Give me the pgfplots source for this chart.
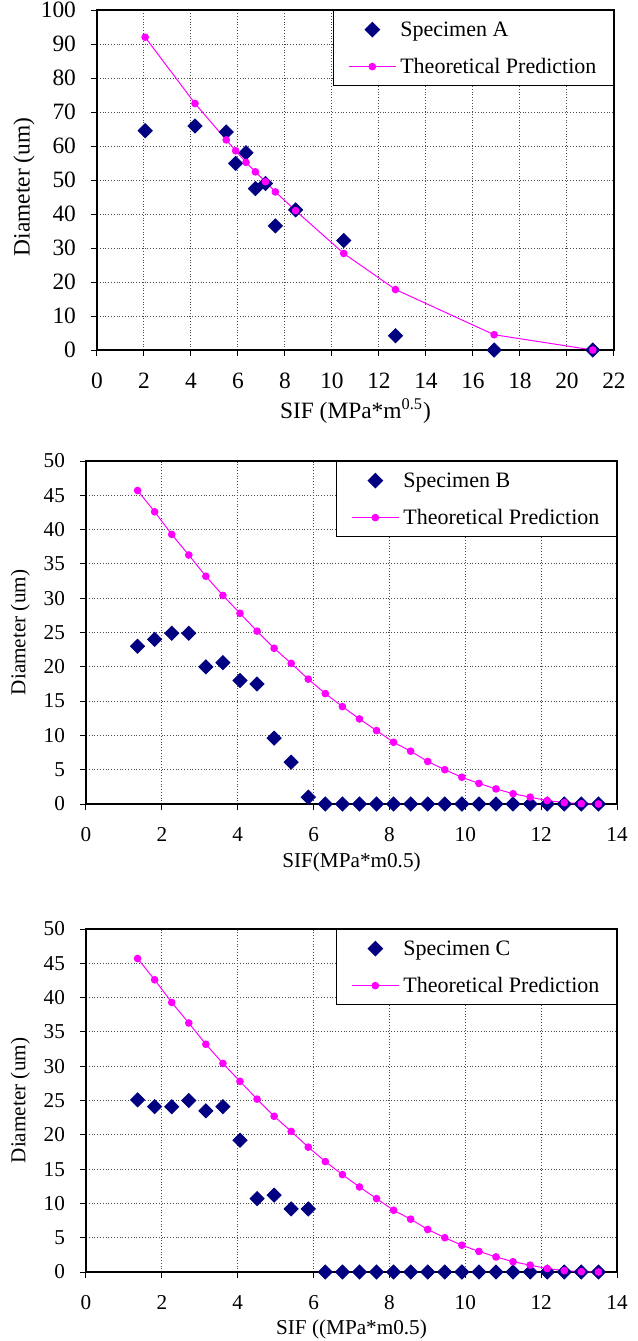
\documentclass[border=0pt]{standalone}
\usepackage{fontspec}
\setmainfont{Liberation Serif}
\usepackage{pgfplots}
\usepackage{pgfplotstable}
\pgfplotsset{compat=1.18}

\definecolor{spec}{RGB}{0,0,128}
\definecolor{theo}{RGB}{255,0,255}

% specimen B and C share the same SIF steps and prediction
\pgfplotstableread{
x     theo  specB specC
1.36  45.7  23.0  25.1
1.81  42.6  24.0  24.1
2.26  39.3  24.9  24.1
2.71  36.3  24.9  25.0
3.16  33.2  20.0  23.5
3.61  30.4  20.6  24.1
4.06  27.8  18.0  19.2
4.51  25.2  17.5  10.7
4.96  22.7  9.6   11.2
5.41  20.5  6.1   9.2
5.86  18.2  1.0   9.2
6.31  16.1  0     0
6.76  14.2  0     0
7.21  12.4  0     0
7.66  10.7  0     0
8.11  9.0   0     0
8.56  7.7   0     0
9.01  6.2   0     0
9.46  5.0   0     0
9.91  3.9   0     0
10.36 3.0   0     0
10.81 2.2   0     0
11.26 1.5   0     0
11.71 1.0   0     0
12.16 0.5   0     0
12.61 0.2   0     0
13.06 0.05  0     0
13.51 0     0     0
}\dataBC

\newcommand{\fontA}{\fontsize{11.7}{14}\selectfont}
\newcommand{\fontB}{\fontsize{10.6}{13}\selectfont}
\newcommand{\fontL}{\fontsize{11}{13}\selectfont}

\pgfplotsset{
  sifplot/.style={
    scale only axis,
    axis line style={black, line width=0.6pt},
    grid=major,
    major grid style={densely dotted, black!70, line width=0.5pt},
    tick align=outside, xtick pos=bottom, ytick pos=left,
    major tick length=3pt,
    tick style={black, line width=0.5pt},
    /pgf/number format/assume math mode=true,
    xticklabel shift=5pt,
    every y tick label/.append style={anchor=east},
    legend style={at={(1,1)}, anchor=north east, draw=black, line width=0.6pt,
      fill=white, font=\fontL, legend cell align=left,
      row sep=6.5pt, column sep=1pt, inner xsep=7.5pt, inner ysep=3.5pt,
      nodes={inner sep=1pt, text height=0.85em, text depth=0.15em}},
    legend image code/.code={\draw[mark repeat=2,mark phase=2,##1]
      plot coordinates {(0pt,0pt)(11.75pt,0pt)(23.5pt,0pt)};},
  },
  specmark/.style={only marks, color=spec, mark=square*,
    mark size=2.5pt, mark options={rotate=45}},
  theoline/.style={color=theo, line width=0.5pt, mark=*, mark size=1.65pt},
}

\begin{document}
\begin{tikzpicture}
\useasboundingbox (0,0) rectangle (319pt,-670.5pt);

% Specimen A
\begin{axis}[sifplot, at={(48.5pt,-5pt)}, anchor=north west,
  width=258.5pt, height=170pt,
  tick label style={font=\fontA}, label style={font=\fontA},
  yticklabel style={xshift=-4pt},
  xlabel style={at={(axis description cs:0.5,-0.2)}, anchor=base},
  ylabel style={at={(axis description cs:-0.141,0.48)}, anchor=center},
  xmin=0, xmax=22, ymin=0, ymax=100,
  xtick={0,2,...,22}, ytick={0,10,...,100},
  xlabel={SIF (MPa*m\textsuperscript{0.5})}, ylabel={Diameter (um)}]
\addplot[specmark] coordinates {
  (2.05,64.5)(4.17,65.9)(5.5,64.1)(5.9,54.9)(6.34,58.0)(6.74,47.5)
  (7.17,49.0)(7.59,36.5)(8.45,41.2)(10.5,32.2)(12.7,4.2)(16.9,0)(21.1,0)};
\addlegendentry{Specimen A}
\addplot[theoline] coordinates {
  (2.05,92.0)(4.17,72.5)(5.5,61.8)(5.9,58.6)(6.34,55.2)(6.74,52.4)
  (7.17,49.5)(7.59,46.5)(8.45,41.0)(10.5,28.4)(12.7,17.8)(16.9,4.5)(21.1,0)};
\addlegendentry{Theoretical Prediction}
\end{axis}

% Specimen B
\begin{axis}[sifplot, at={(43pt,-230.5pt)}, anchor=north west,
  width=265.5pt, height=171.5pt,
  tick label style={font=\fontB}, label style={font=\fontB},
  yticklabel style={xshift=-4pt},
  xlabel style={at={(axis description cs:0.5,-0.184)}, anchor=base},
  ylabel style={at={(axis description cs:-0.124,0.5)}, anchor=center},
  xmin=0, xmax=14, ymin=0, ymax=50,
  xtick={0,2,...,14}, ytick={0,5,...,50},
  xlabel={SIF(MPa*m0.5)}, ylabel={Diameter (um)}]
\addplot[specmark] table[x=x, y=specB] {\dataBC};
\addlegendentry{Specimen B}
\addplot[theoline] table[x=x, y=theo] {\dataBC};
\addlegendentry{Theoretical Prediction}
\end{axis}

% Specimen C
\begin{axis}[sifplot, at={(43pt,-464.5pt)}, anchor=north west,
  width=265.5pt, height=171.5pt,
  tick label style={font=\fontB}, label style={font=\fontB},
  yticklabel style={xshift=-4pt},
  xlabel style={at={(axis description cs:0.5,-0.181)}, anchor=base},
  ylabel style={at={(axis description cs:-0.124,0.5)}, anchor=center},
  xmin=0, xmax=14, ymin=0, ymax=50,
  xtick={0,2,...,14}, ytick={0,5,...,50},
  xlabel={SIF ((MPa*m0.5)}, ylabel={Diameter (um)}]
\addplot[specmark] table[x=x, y=specC] {\dataBC};
\addlegendentry{Specimen C}
\addplot[theoline] table[x=x, y=theo] {\dataBC};
\addlegendentry{Theoretical Prediction}
\end{axis}
\end{tikzpicture}
\end{document}
